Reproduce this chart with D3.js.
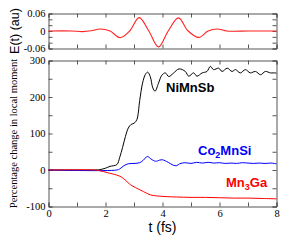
<!DOCTYPE html>
<html>
<head>
<meta charset="utf-8">
<script src="https://cdn.jsdelivr.net/npm/d3@7"></script>
<style>
body { margin: 0; background: #fff; }
svg { display: block; }
.tick text { font-family: "Liberation Serif", "Times New Roman", serif; font-size: 10.5px; fill: #000; }
</style>
</head>
<body>
<svg id="chart" width="299" height="244"></svg>
<script>
// laser pulse E(t)
var eTime  = [0, 0.8, 1.2, 1.5, 1.81, 2.16, 2.51, 2.85, 3.18, 3.52, 3.86, 4.2, 4.56, 4.9, 5.27, 5.6, 5.91, 6.25, 6.5, 7, 8];
var eField = [0, 0, -0.002, 0.001, 0.007, 0, -0.023, 0, 0.046, 0, -0.055, 0, 0.045, 0, -0.022, 0, 0.007, 0, -0.001, 0, 0];

// percentage change in local moment
var niTime = [0, 1.6, 1.8, 2.0, 2.16, 2.4, 2.5, 2.6, 2.7, 2.8, 2.9, 3.0, 3.1, 3.2, 3.3, 3.4, 3.48, 3.57, 3.66, 3.74, 3.86, 3.98, 4.1, 4.22, 4.38, 4.58, 4.8, 4.92, 5.09, 5.21, 5.39, 5.56, 5.68, 5.79, 5.97, 6.09, 6.27, 6.44, 6.56, 6.73, 6.91, 7.08, 7.26, 7.44, 7.61, 7.79, 7.96, 8];
var niVal  = [0, 0, 1, 5, 10, 15, 35, 62, 92, 115, 125, 128, 138, 190, 238, 262, 268, 256, 225, 216, 238, 260, 266, 256, 265, 277, 270, 257, 266, 257, 266, 270, 284, 275, 279, 270, 279, 270, 275, 266, 275, 266, 270, 261, 270, 266, 266, 265];

var coTime = [0, 2.4, 2.5, 2.65, 2.8, 3.0, 3.2, 3.33, 3.47, 3.6, 3.75, 3.9, 4.0, 4.2, 4.38, 4.5, 4.6, 4.8, 5.0, 5.2, 5.4, 5.6, 5.8, 6.0, 6.2, 6.4, 6.6, 6.8, 7.0, 7.2, 7.4, 7.6, 7.8, 8];
var coVal  = [0, 0, 3, 12, 17, 18, 20, 27, 37, 30, 24, 27, 28, 21, 13, 12, 17, 20, 18, 21, 19, 21, 19, 20, 18, 19, 18, 20, 19, 18, 19, 18, 19, 17];

var mnTime = [0, 1.6, 1.8, 2.05, 2.4, 2.55, 2.7, 2.87, 3.0, 3.1, 3.33, 3.57, 3.8, 4.16, 4.5, 5, 5.5, 6, 6.5, 7, 7.5, 8];
var mnVal  = [0, 0, -2, -7, -14, -19, -28, -40, -46, -50, -59, -68, -71, -73, -74, -75, -75, -76, -77, -77, -78, -79];

var tTicks = [0, 1, 2, 3, 4, 5, 6, 7, 8];
var tLabels = [0, 2, 4, 6, 8];
var eTicks = [-0.06, -0.04, -0.02, 0, 0.02, 0.04, 0.06];
var eLabels = [-0.06, 0, 0.06];
var mTicks = [-100, -50, 0, 50, 100, 150, 200, 250, 300];
var mLabels = [-100, 0, 100, 200, 300];

var svg = d3.select("#chart");
var frame = "#555";

var x = d3.scaleLinear().domain([0, 8]).range([48.5, 276.5]);
var yE = d3.scaleLinear().domain([-0.06, 0.06]).range([48.5, 13.5]);
var yM = d3.scaleLinear().domain([-100, 300]).range([206.5, 60.5]);

function fmt(list) {
    return function(d) { return list.indexOf(d) >= 0 ? (d < 0 ? "-" + Math.abs(d) : d) : ""; };
}

function frameAxes(y, yTicks, yFmt, showX) {
    var top = y.range()[1], bottom = y.range()[0];
    svg.append("g").attr("transform", "translate(0," + bottom + ")")
        .call(d3.axisBottom(x).tickValues(tTicks).tickSize(-4).tickPadding(3)
            .tickFormat(showX ? fmt(tLabels) : function() { return ""; }));
    svg.append("g").attr("transform", "translate(0," + top + ")")
        .call(d3.axisTop(x).tickValues(tTicks).tickSize(-4).tickFormat(""));
    svg.append("g").attr("transform", "translate(" + x.range()[0] + ",0)")
        .call(d3.axisLeft(y).tickValues(yTicks).tickSize(-4).tickPadding(3).tickFormat(yFmt));
    svg.append("g").attr("transform", "translate(" + x.range()[1] + ",0)")
        .call(d3.axisRight(y).tickValues(yTicks).tickSize(-4).tickFormat(""));
    svg.selectAll(".domain, .tick line").attr("stroke", frame);
}

frameAxes(yE, eTicks, fmt(eLabels), false);
frameAxes(yM, mTicks, fmt(mLabels), true);

var curve = d3.curveCatmullRom.alpha(0.5);

svg.append("path")
    .attr("d", d3.line().curve(curve).x(function(d) { return x(d); }).y(function(d, i) { return yE(eField[i]); })(eTime))
    .attr("fill", "none").attr("stroke", "#ff2020").attr("stroke-width", 1.1);

var series = [
    { t: niTime, v: niVal, color: "#000" },
    { t: coTime, v: coVal, color: "#0000ff" },
    { t: mnTime, v: mnVal, color: "#ff0000" }
];
series.forEach(function(s) {
    svg.append("path")
        .attr("d", d3.line().curve(curve).x(function(d) { return x(d); }).y(function(d, i) { return yM(s.v[i]); })(s.t))
        .attr("fill", "none").attr("stroke", s.color).attr("stroke-width", 1);
});

// axis titles
svg.append("text")
    .attr("transform", "translate(19," + yE(0) + ") rotate(-90)")
    .attr("text-anchor", "middle")
    .style("font-family", "Liberation Sans, Arial, sans-serif").style("font-size", "12.5px")
    .text("E(t) (au)");

svg.append("text")
    .attr("transform", "translate(17," + ((60.5 + 206.5) / 2) + ") rotate(-90)")
    .attr("text-anchor", "middle")
    .style("font-family", "Liberation Serif, Times New Roman, serif").style("font-size", "10.5px")
    .text("Percentage change in local moment");

svg.append("text")
    .attr("x", (x.range()[0] + x.range()[1]) / 2).attr("y", 232)
    .attr("text-anchor", "middle")
    .style("font-family", "Liberation Sans, Arial, sans-serif").style("font-size", "14px")
    .text("t (fs)");

// series labels
function label(xp, yp, color, parts) {
    var t = svg.append("text").attr("x", xp).attr("y", yp)
        .attr("fill", color)
        .style("font-family", "Liberation Sans, Arial, sans-serif").style("font-size", "13px").style("font-weight", "bold");
    parts.forEach(function(p) {
        if (p.sub) t.append("tspan").attr("dy", 3).style("font-size", "9px").text(p.s);
        else t.append("tspan").attr("dy", p.up ? -3 : 0).text(p.s);
    });
}
label(166, 92, "#000", [{ s: "NiMnSb" }]);
label(198, 155, "#0000ff", [{ s: "Co" }, { s: "2", sub: true }, { s: "MnSi", up: true }]);
label(226, 187, "#ff0000", [{ s: "Mn" }, { s: "3", sub: true }, { s: "Ga", up: true }]);
</script>
</body>
</html>
